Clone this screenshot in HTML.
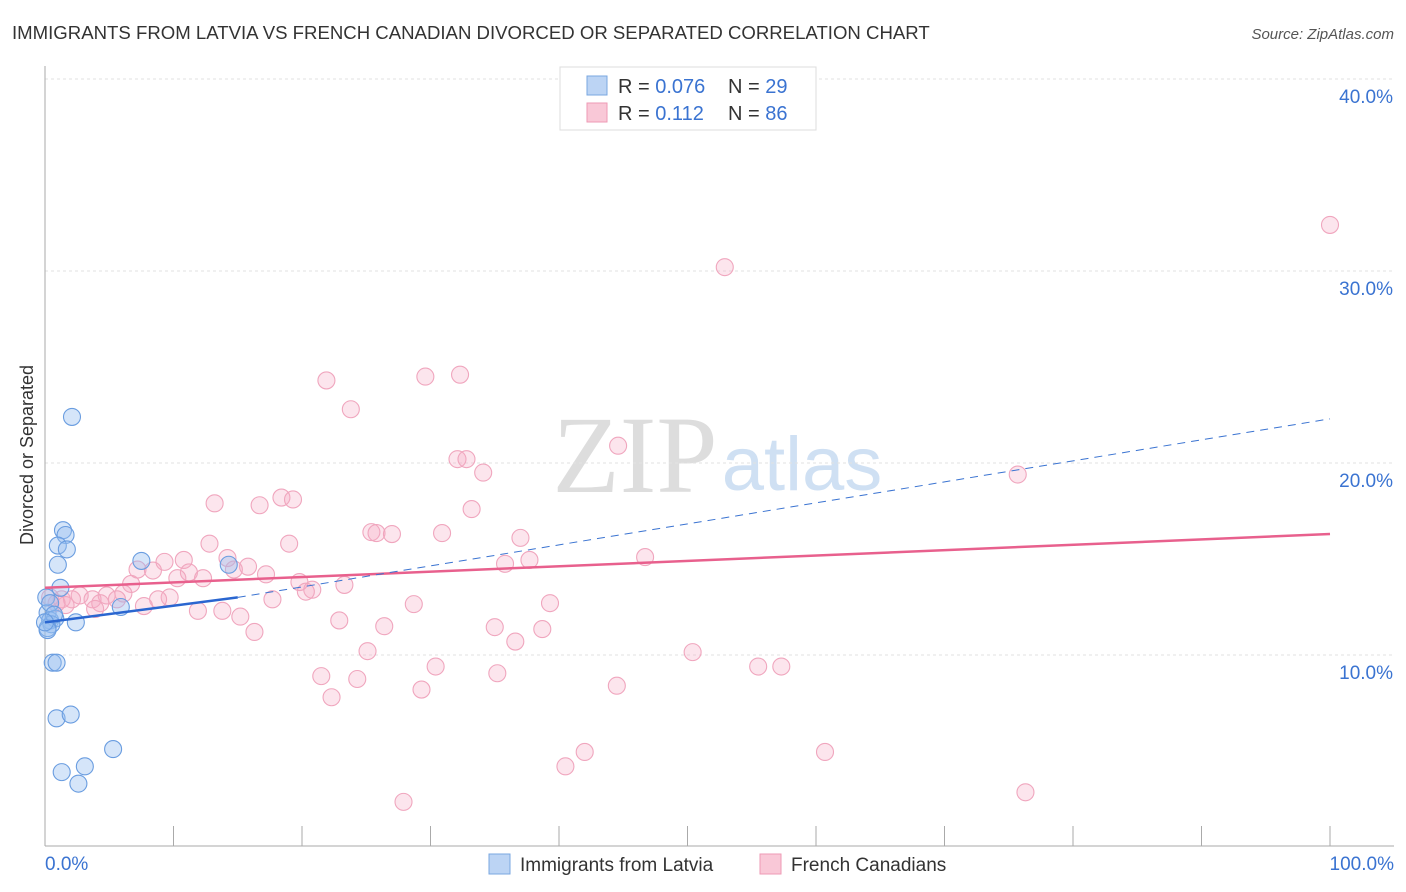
<!DOCTYPE html>
<html><head><meta charset="utf-8">
<style>
body{margin:0;background:#fff;font-family:"Liberation Sans",sans-serif;}
#wrap{position:relative;width:1406px;height:892px;overflow:hidden;}
</style></head>
<body>
<div id="wrap">
<svg id="svg" width="1406" height="892" xmlns="http://www.w3.org/2000/svg">
<text x="12" y="39" font-size="18.6" fill="#333">IMMIGRANTS FROM LATVIA VS FRENCH CANADIAN DIVORCED OR SEPARATED CORRELATION CHART</text>
<text x="1394" y="39" font-size="15" fill="#555" font-style="italic" text-anchor="end">Source: ZipAtlas.com</text>
<text x="635" y="492" font-size="110" fill="#ddd" font-family="Liberation Serif" text-anchor="middle">ZIP</text>
<text x="802" y="490" font-size="76" fill="#cfe0f3" text-anchor="middle">atlas</text>
<text transform="translate(33,455) rotate(-90)" font-size="18" fill="#333" text-anchor="middle">Divorced or Separated</text>
<g id="grid"></g>
<g id="pts"></g>
<g id="lines"></g>
<g>
<rect x="560" y="67" width="256" height="63" fill="#fff" stroke="#ddd"/>
<rect x="587" y="76" width="20" height="19" fill="#bcd4f4" stroke="#7aa7e0"/>
<rect x="587" y="103" width="20" height="19" fill="#f9c8d7" stroke="#ee9ab4"/>
<text x="618" y="93" font-size="20" fill="#333">R = <tspan fill="#3a73d1">0.076</tspan></text>
<text x="728" y="93" font-size="20" fill="#333">N = <tspan fill="#3a73d1">29</tspan></text>
<text x="618" y="120" font-size="20" fill="#333">R =  <tspan fill="#3a73d1"> 0.112</tspan></text>
<text x="728" y="120" font-size="20" fill="#333">N = <tspan fill="#3a73d1">86</tspan></text>
</g>
<g>
<rect x="489" y="854" width="21" height="20" fill="#bcd4f4" stroke="#7aa7e0"/>
<text x="520" y="871" font-size="19" fill="#333">Immigrants from Latvia</text>
<rect x="760" y="854" width="21" height="20" fill="#f9c8d7" stroke="#ee9ab4"/>
<text x="791" y="871" font-size="19" fill="#333">French Canadians</text>
</g>
<text x="45" y="870" font-size="19" fill="#3a73d1">0.0%</text>
<text x="1394" y="870" font-size="19" fill="#3a73d1" text-anchor="end">100.0%</text>
</svg>
</div>
<script>
const latviaX=[2.1,1.4,1.6,1.0,1.7,7.5,1.0,1.2,14.3,5.9,0.2,0.4,0.8,0.5,0.2,2.4,0.6,0.9,0.9,2.0,5.3,1.3,3.1,2.6,0.1,0.4,0.2,0.7,0.0];
const latviaY=[22.4,16.5,16.25,15.7,15.5,14.9,14.7,13.5,14.7,12.5,12.2,11.8,11.9,11.6,11.4,11.7,9.6,9.6,6.7,6.9,5.1,3.9,4.2,3.3,13.0,12.7,11.3,12.1,11.7];
const frenchX=[100,52.9,21.9,29.6,32.3,23.8,44.6,32.1,32.8,34.1,75.7,13.2,18.4,19.3,16.7,33.2,25.4,25.8,27.0,30.9,37.0,12.8,19.0,46.7,14.2,10.8,9.3,37.7,35.8,7.2,8.4,15.8,14.7,11.2,17.2,10.3,12.3,6.7,19.8,23.3,20.8,20.3,6.1,2.7,4.8,9.7,5.6,8.8,1.3,0.4,2.1,3.7,4.3,3.9,1.6,0.9,7.7,17.7,28.7,39.3,13.8,11.9,15.2,22.9,26.4,35.0,38.7,16.3,36.6,25.1,50.4,30.4,55.5,57.3,21.5,35.2,24.3,29.3,44.5,22.3,42.0,60.7,40.5,27.9,76.3];
const frenchY=[32.4,30.2,24.3,24.5,24.6,22.8,20.9,20.2,20.2,19.5,19.4,17.9,18.2,18.1,17.8,17.6,16.4,16.35,16.3,16.35,16.1,15.8,15.8,15.1,15.05,14.95,14.85,14.95,14.75,14.45,14.4,14.6,14.45,14.3,14.2,14.0,14.0,13.7,13.8,13.65,13.4,13.3,13.2,13.1,13.1,13.0,12.9,12.9,12.9,13.0,12.9,12.9,12.7,12.4,12.6,12.7,12.55,12.9,12.65,12.7,12.3,12.3,12.0,11.8,11.5,11.45,11.35,11.2,10.7,10.2,10.15,9.4,9.4,9.4,8.9,9.05,8.75,8.2,8.4,7.8,4.95,4.95,4.2,2.35,2.85];
const yTicks=[10,20,30,40];
const yTickLabels=["10.0%","20.0%","30.0%","40.0%"];
const xTicks=[0,10,20,30,40,50,60,70,80,90,100];
const latviaTrend=[11.7,13.0,22.3];
const frenchTrend=[13.5,16.3];
const NS="http://www.w3.org/2000/svg";
const sx=v=>45+v*12.85;
const sy=v=>655-(v-10)*19.2;
function mk(tag,attrs,parent){const e=document.createElementNS(NS,tag);for(const k in attrs)e.setAttribute(k,attrs[k]);parent.appendChild(e);return e;}
const grid=document.getElementById('grid');
yTicks.forEach((t,i)=>{
 const l=mk('line',{x1:45,x2:1394,y1:sy(t),y2:sy(t),stroke:'#e2e2e2','stroke-dasharray':'3,3'},grid);
 
 
 const tx=mk('text',{x:1393,y:sy(t)+24,'font-size':19,fill:'#3a73d1','text-anchor':'end'},grid);
 tx.textContent=yTickLabels[i];
 
 
});
const ax=mk('line',{x1:45,x2:45,y1:66,y2:846,stroke:'#aaa'},grid);


const bx=mk('line',{x1:45,x2:1394,y1:846,y2:846,stroke:'#aaa'},grid);


xTicks.forEach(t=>{
 const l=mk('line',{x1:sx(t),x2:sx(t),y1:826,y2:846,stroke:'#aaa'},grid);
 
 
});
const pts=document.getElementById('pts');
frenchX.forEach((x,i)=>{
 const c=mk('circle',{cx:sx(x),cy:sy(frenchY[i]),r:8.5,fill:'rgba(246,170,195,0.3)',stroke:'#f0a6be','stroke-width':1.1},pts);
 
 
});
latviaX.forEach((x,i)=>{
 const c=mk('circle',{cx:sx(x),cy:sy(latviaY[i]),r:8.5,fill:'rgba(150,190,240,0.4)',stroke:'#6a9de0','stroke-width':1.1},pts);
 
 
});
const lines=document.getElementById('lines');
const fl=mk('line',{x1:sx(0),y1:sy(frenchTrend[0]),x2:sx(100),y2:sy(frenchTrend[1]),stroke:'#e8608d','stroke-width':2.5},lines);


const ld=mk('line',{x1:sx(15),y1:sy(latviaTrend[1]),x2:sx(100),y2:sy(latviaTrend[2]),stroke:'#3a73d1','stroke-width':1,'stroke-dasharray':'8,6'},lines);


const ls=mk('line',{x1:sx(0),y1:sy(latviaTrend[0]),x2:sx(15),y2:sy(latviaTrend[1]),stroke:'#2a66d0','stroke-width':2.5},lines);


</script>
</body></html>
